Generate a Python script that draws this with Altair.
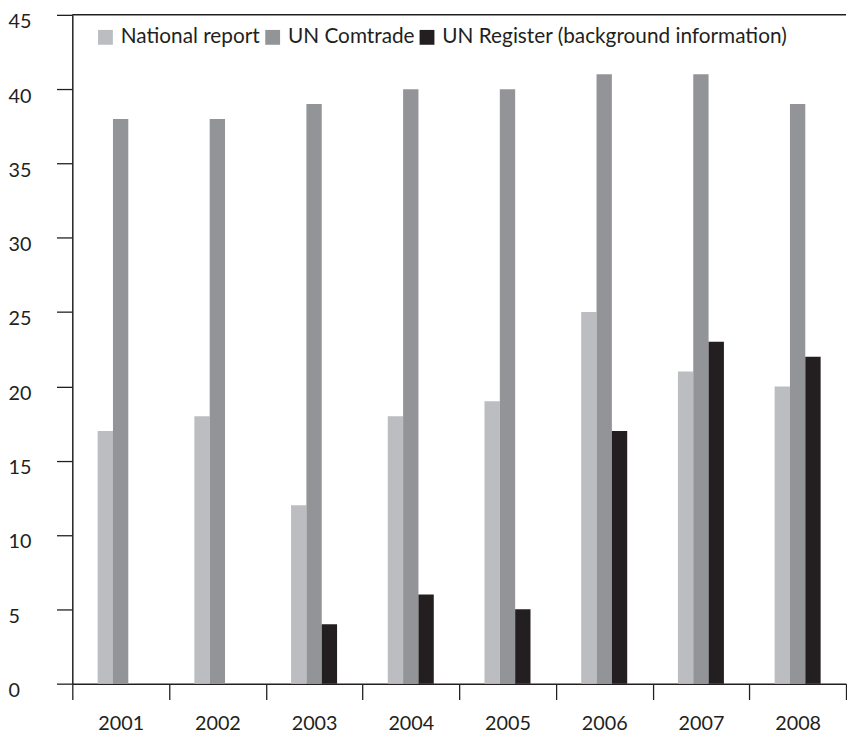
import altair as alt
import pandas as pd

years = ["2001", "2002", "2003", "2004", "2005", "2006", "2007", "2008"]
series = ["National report", "UN Comtrade", "UN Register (background information)"]
national = [17, 18, 12, 18, 19, 25, 21, 20]
comtrade = [38, 38, 39, 40, 40, 41, 41, 39]
register = [None, None, 4, 6, 5, 17, 23, 22]
colors = ["#bcbdc1", "#939498", "#231f20"]
y_ticks = [0, 5, 10, 15, 20, 25, 30, 35, 40, 45]

rows = []
for i, yr in enumerate(years):
    for s, vals in zip(series, [national, comtrade, register]):
        if vals[i] is not None:
            rows.append({"year": yr, "series": s, "value": vals[i]})
df = pd.DataFrame(rows)

INK = "#231f20"
FONT = "Lato"

bars = alt.Chart(df).mark_bar().encode(
    x=alt.X(
        "year:N",
        sort=years,
        scale=alt.Scale(paddingInner=0, paddingOuter=0),
        axis=alt.Axis(
            title=None, labelAngle=0, tickBand="extent", tickSize=16,
            labelPadding=14, labelFontSize=20, labelFont=FONT,
            labelColor=INK, labelBaseline="top",
        ),
    ),
    xOffset=alt.XOffset(
        "series:N", sort=series,
        scale=alt.Scale(domain=series, paddingInner=0, paddingOuter=0, range=[25.6, 72.1]),
    ),
    y=alt.Y(
        "value:Q",
        scale=alt.Scale(domain=[0, 45], nice=False, zero=True),
        axis=alt.Axis(
            values=y_ticks, title=None, tickSize=16, labelAlign="left",
            labelPadding=49, labelBaseline="top", labelOffset=-3,
            labelFontSize=20, labelFont=FONT, labelColor=INK, grid=False,
        ),
    ),
    color=alt.Color(
        "series:N",
        sort=series,
        scale=alt.Scale(domain=series, range=colors),
        legend=alt.Legend(
            title=None, orient="none", legendX=23, legendY=12,
            direction="horizontal", symbolType="square", symbolSize=225,
            symbolStrokeWidth=0, labelFontSize=21, labelFont=FONT,
            labelColor=INK, columnPadding=2, labelOffset=5, labelLimit=0,
        ),
    ),
)

top_line = alt.Chart(pd.DataFrame({"v": [45]})).mark_rule(
    color=INK, strokeWidth=1.5
).encode(y="v:Q")

chart = alt.layer(bars, top_line).properties(
    width=782, height=676,
    padding={"left": 0, "top": 0, "right": 0, "bottom": 0},
).configure_view(stroke=None).configure_axis(
    domainColor=INK, domainWidth=1.5, tickColor=INK, tickWidth=1.3,
)

chart.save("out.html", embed_options={"renderer": "svg", "actions": False})
